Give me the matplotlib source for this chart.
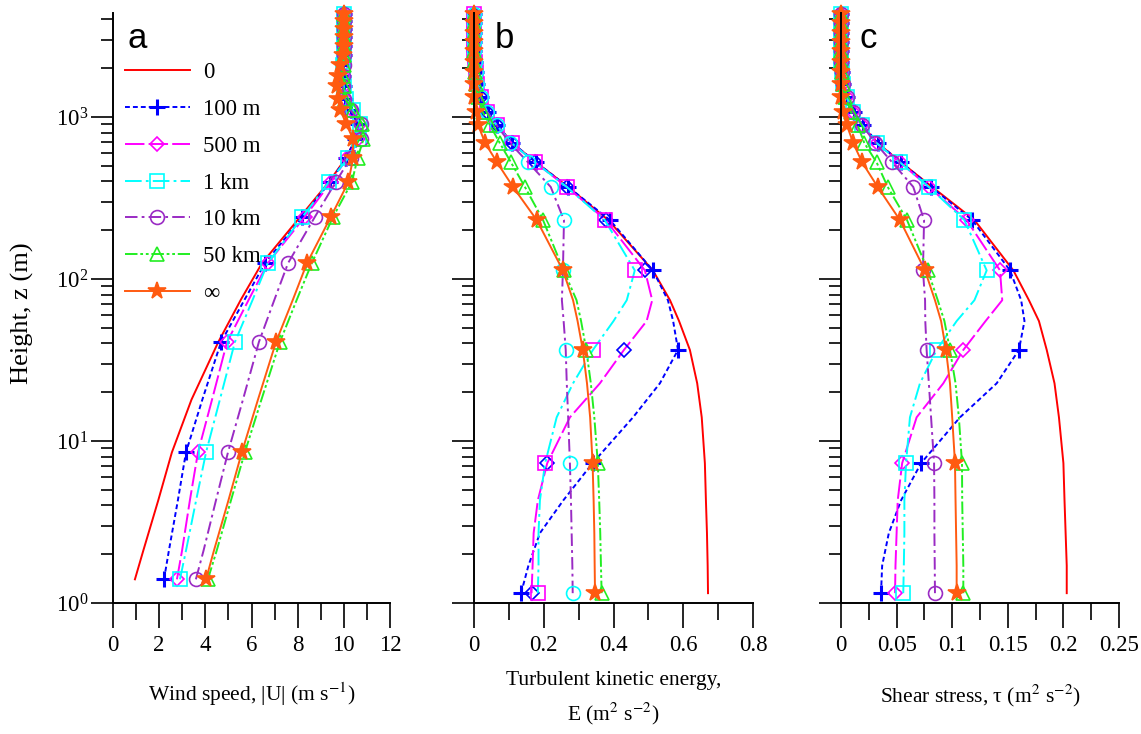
import matplotlib
matplotlib.use("Agg")
import matplotlib.pyplot as plt
from matplotlib.ticker import MultipleLocator, LogLocator, NullFormatter, FuncFormatter

# ====== DATA ======
LABELS = ["0", "100 m", "500 m", "1 km", "10 km", "50 km", "∞"]

# heights for panel a (wind speed)
Z_U = [1.4, 2.1, 4.3, 8.5, 18, 40.8, 75, 125, 241, 397, 560, 730, 910, 1100,
       1300, 1550, 1800, 2100, 2400, 2750, 3100, 3500, 3900, 4300]
MARK_U = [0, 3, 5] + list(range(7, 24))

U_0 = [0.95, 1.31, 1.96, 2.55, 3.4, 4.56, 5.55, 6.45, 8.1, 9.35, 10.1, 10.5, 10.6, 10.3,
       10.05, 10.0, 9.95, 9.95, 10.0, 10.0, 10.0, 10.0, 10.0, 10.0]
U_100M = [2.21, 2.42, 2.81, 3.16, 3.87, 4.68, 5.71, 6.58, 8.2, 9.4, 10.1, 10.5, 10.6, 10.3,
          10.05, 10.0, 9.95, 9.95, 10.0, 10.0, 10.0, 10.0, 10.0, 10.0]
U_500M = [2.77, 2.99, 3.33, 3.68, 4.29, 4.94, 5.89, 6.7, 8.3, 9.45, 10.15, 10.6, 10.7, 10.35,
          10.05, 10.0, 9.95, 9.95, 10.0, 10.0, 10.0, 10.0, 10.0, 10.0]
U_1KM = [2.9, 3.16, 3.6, 4.03, 4.63, 5.28, 6.06, 6.7, 8.2, 9.35, 10.2, 10.65, 10.7, 10.4,
         10.1, 10.0, 9.95, 9.95, 10.0, 10.0, 10.0, 10.0, 10.0, 10.0]
U_10KM = [3.59, 3.92, 4.46, 4.98, 5.63, 6.32, 7.0, 7.58, 8.74, 9.65, 10.3, 10.75, 10.75, 10.3,
          10.0, 9.95, 9.95, 10.0, 10.0, 10.0, 10.0, 10.0, 10.0, 10.0]
U_50KM = [4.11, 4.49, 5.11, 5.71, 6.43, 7.23, 7.97, 8.61, 9.53, 10.35, 10.6, 10.85, 10.8, 10.4,
          10.05, 10.0, 9.95, 10.0, 10.0, 10.0, 10.0, 10.0, 10.0, 10.0]
U_INF = [4.03, 4.37, 5.0, 5.58, 6.28, 7.06, 7.8, 8.4, 9.43, 10.2, 10.4, 10.4, 10.1, 9.85,
         9.75, 9.72, 9.75, 9.85, 9.95, 10.0, 10.0, 10.0, 10.0, 10.0]

# heights for panels b and c (TKE, shear stress)
Z_T = [1.15, 1.7, 2.7, 4.3, 7.3, 14, 22.7, 36.5, 55, 74, 113, 231, 370, 525, 690, 890,
       1070, 1330, 1600, 1900, 2200, 2550, 2900, 3300, 3800, 4300]
MARK_T = [0, 4, 7] + list(range(10, 26))

E_0 = [0.671, 0.670, 0.668, 0.665, 0.662, 0.653, 0.640, 0.619, 0.588, 0.562, 0.513, 0.385,
       0.27, 0.178, 0.11, 0.067, 0.04, 0.02, 0.01, 0.005, 0.002, 0, 0, 0, 0, 0]
E_100M = [0.135, 0.156, 0.189, 0.256, 0.34, 0.456, 0.533, 0.585, 0.571, 0.556, 0.513, 0.39,
          0.27, 0.178, 0.11, 0.067, 0.04, 0.02, 0.01, 0.005, 0.002, 0, 0, 0, 0, 0]
E_500M = [0.165, 0.168, 0.171, 0.183, 0.21, 0.275, 0.361, 0.43, 0.495, 0.511, 0.49, 0.378,
          0.266, 0.175, 0.108, 0.065, 0.038, 0.02, 0.01, 0.005, 0.002, 0, 0, 0, 0, 0]
E_1KM = [0.183, 0.185, 0.185, 0.189, 0.204, 0.237, 0.284, 0.341, 0.40, 0.438, 0.461, 0.375,
         0.266, 0.175, 0.108, 0.065, 0.038, 0.02, 0.01, 0.005, 0.002, 0, 0, 0, 0, 0]
E_10KM = [0.283, 0.282, 0.28, 0.278, 0.275, 0.27, 0.266, 0.263, 0.257, 0.252, 0.255, 0.258,
          0.22, 0.155, 0.103, 0.065, 0.038, 0.02, 0.01, 0.005, 0.002, 0, 0, 0, 0, 0]
E_50KM = [0.366, 0.364, 0.362, 0.359, 0.355, 0.345, 0.335, 0.322, 0.307, 0.294, 0.257, 0.198,
          0.146, 0.106, 0.074, 0.046, 0.025, 0.012, 0.005, 0.002, 0, 0, 0, 0, 0, 0]
E_INF = [0.347, 0.346, 0.345, 0.343, 0.34, 0.333, 0.324, 0.312, 0.297, 0.284, 0.255, 0.18,
         0.112, 0.066, 0.032, 0.012, 0.005, 0.001, 0, 0, 0, 0, 0, 0, 0, 0]

T_0 = [0.203, 0.203, 0.202, 0.201, 0.200, 0.196, 0.192, 0.185, 0.178, 0.169, 0.155, 0.12,
       0.082, 0.054, 0.033, 0.019, 0.011, 0.005, 0.002, 0.001, 0, 0, 0, 0, 0, 0]
T_100M = [0.036, 0.037, 0.043, 0.054, 0.072, 0.107, 0.14, 0.16, 0.165, 0.162, 0.152, 0.118,
          0.081, 0.054, 0.033, 0.02, 0.012, 0.005, 0.002, 0.001, 0, 0, 0, 0, 0, 0]
T_500M = [0.0486, 0.049, 0.05, 0.051, 0.055, 0.068, 0.092, 0.11, 0.13, 0.145, 0.143, 0.113,
          0.079, 0.053, 0.032, 0.019, 0.011, 0.005, 0.002, 0.001, 0, 0, 0, 0, 0, 0]
T_1KM = [0.056, 0.0565, 0.057, 0.057, 0.0585, 0.062, 0.071, 0.086, 0.104, 0.12, 0.131, 0.111,
         0.079, 0.053, 0.032, 0.019, 0.011, 0.005, 0.002, 0.001, 0, 0, 0, 0, 0, 0]
T_10KM = [0.0845, 0.0843, 0.084, 0.084, 0.0837, 0.081, 0.079, 0.077, 0.0758, 0.0756, 0.0737,
          0.0747, 0.065, 0.046, 0.031, 0.019, 0.011, 0.005, 0.002, 0.001, 0, 0, 0, 0, 0, 0]
T_50KM = [0.11, 0.11, 0.1095, 0.109, 0.1088, 0.106, 0.103, 0.098, 0.093, 0.087, 0.078, 0.0594,
          0.042, 0.032, 0.021, 0.015, 0.009, 0.004, 0.002, 0.001, 0, 0, 0, 0, 0, 0]
T_INF = [0.104, 0.104, 0.1035, 0.103, 0.1025, 0.1, 0.098, 0.0944, 0.09, 0.0845, 0.0755, 0.053,
         0.033, 0.019, 0.011, 0.0053, 0.0015, 0, 0, 0, 0, 0, 0, 0, 0, 0]

# ====== STYLE ======
plt.rcParams['font.family'] = ['Liberation Serif', 'DejaVu Serif']
plt.rcParams['mathtext.fontset'] = 'stix'
plt.rcParams['lines.scale_dashes'] = False

RED, BLUE, MAG, CYAN, PURP, GREEN, ORNG = ('#FF0000', '#0000FF', '#FF00FF', '#00FFFF',
                                           '#9A2BC4', '#22EE22', '#FF5A10')
COLORS = [RED, BLUE, MAG, CYAN, PURP, GREEN, ORNG]
DASHES = ['-', (0, (3.5, 2.2)), (0, (14, 3)), (0, (12, 3, 2, 3)), (0, (9, 3, 2, 3)),
          (0, (9, 2, 2, 2, 2, 2)), '-']
MARKERS = [None, '+', 'D', 's', 'o', '^', '*']
MSIZE = [0, 11, 7.5, 10, 10, 10.5, 13]
# panel b uses shifted marker colours in the original figure
MEC_B = [RED, BLUE, BLUE, MAG, CYAN, GREEN, ORNG]

W, H = 1141, 734
Y0, Y1 = 603, 13        # pixel rows of z=1 and the top of the axes
TOP = 10 ** ((Y0 - Y1) / 162.0)


def nova_osa(fig, x0, x1):
    ax = fig.add_axes([x0 / W, 1 - Y0 / H, (x1 - x0) / W, (Y0 - Y1) / H])
    ax.set_yscale('log')
    ax.set_ylim(1, TOP)
    ax.yaxis.set_major_locator(LogLocator(base=10, numticks=10))
    ax.yaxis.set_minor_locator(LogLocator(base=10, subs=range(2, 10), numticks=50))
    ax.yaxis.set_minor_formatter(NullFormatter())
    for s in ('top', 'right'):
        ax.spines[s].set_visible(False)
    for s in ('left', 'bottom'):
        ax.spines[s].set_linewidth(1.4)
    ax.tick_params(axis='x', which='major', direction='out', length=18, width=1.2,
                   labelsize=16.5, pad=5)
    ax.tick_params(axis='x', which='minor', direction='out', length=12, width=1.2)
    ax.tick_params(axis='y', which='major', direction='out', length=16, width=1.2,
                   labelsize=16.5, pad=2)
    ax.tick_params(axis='y', which='minor', direction='out', length=9, width=1.2)
    ax.xaxis.set_major_formatter(FuncFormatter(lambda v, p: '%g' % round(v, 3)))
    return ax


def kresli(ax, z, serie, mark, mec):
    lines = []
    for i, x in enumerate(serie):
        c = COLORS[i]
        m = MARKERS[i]
        kw = dict(color=c, linestyle=DASHES[i], linewidth=1.4, label=LABELS[i], clip_on=False)
        if m is not None:
            fc = mec[i] if m == '*' else 'none'
            kw.update(marker=m, markevery=mark, markersize=MSIZE[i], markerfacecolor=fc,
                      markeredgecolor=mec[i], markeredgewidth=2.2 if m == '+' else 1.2)
        lines.append(ax.plot(x, z, **kw)[0])
    return lines


fig = plt.figure(figsize=(W / 100, H / 100), dpi=100)

# --- a: wind speed ---
ax_a = nova_osa(fig, 113, 390)
h = kresli(ax_a, Z_U, [U_0, U_100M, U_500M, U_1KM, U_10KM, U_50KM, U_INF], MARK_U, COLORS)
ax_a.set_xlim(0, 12)
ax_a.xaxis.set_major_locator(MultipleLocator(2))
ax_a.xaxis.set_minor_locator(MultipleLocator(1))
ax_a.set_xlabel(r'Wind speed, |U| (m s$^{-1}$)', fontsize=15.5, labelpad=18)
ax_a.legend(handles=h, loc='upper left', bbox_to_anchor=(0.043, 0.917), frameon=False,
            fontsize=16.5, numpoints=1, handlelength=2.84, handletextpad=0.57,
            labelspacing=0.69, borderpad=0, borderaxespad=0)
ax_a.text(0.054, 0.941, 'a', transform=ax_a.transAxes, fontsize=25,
          family='Liberation Sans', va='baseline')

# --- b: turbulent kinetic energy ---
ax_b = nova_osa(fig, 474, 753)
kresli(ax_b, Z_T, [E_0, E_100M, E_500M, E_1KM, E_10KM, E_50KM, E_INF], MARK_T, MEC_B)
ax_b.set_xlim(0, 0.8)
ax_b.xaxis.set_major_locator(MultipleLocator(0.2))
ax_b.xaxis.set_minor_locator(MultipleLocator(0.1))
ax_b.set_yticklabels([])
ax_b.set_xlabel('Turbulent kinetic energy,\n' + r'E (m$^{2}$ s$^{-2}$)', fontsize=15.5,
                labelpad=11, linespacing=1.55)
ax_b.text(0.075, 0.941, 'b', transform=ax_b.transAxes, fontsize=25,
          family='Liberation Sans', va='baseline')

# --- c: shear stress ---
ax_c = nova_osa(fig, 841, 1119)
kresli(ax_c, Z_T, [T_0, T_100M, T_500M, T_1KM, T_10KM, T_50KM, T_INF], MARK_T, COLORS)
ax_c.set_xlim(0, 0.25)
ax_c.xaxis.set_major_locator(MultipleLocator(0.05))
ax_c.xaxis.set_minor_locator(MultipleLocator(0.025))
ax_c.set_yticklabels([])
ax_c.set_xlabel(r'Shear stress, τ (m$^{2}$ s$^{-2}$)', fontsize=15.5, labelpad=19)
ax_c.text(0.065, 0.941, 'c', transform=ax_c.transAxes, fontsize=25,
          family='Liberation Sans', va='baseline')

fig.text(22 / W, 1 - 313 / H, 'Height, z (m)', rotation=90, fontsize=19,
         ha='center', va='center')

fig.savefig('out.png', dpi=100)
plt.close(fig)
